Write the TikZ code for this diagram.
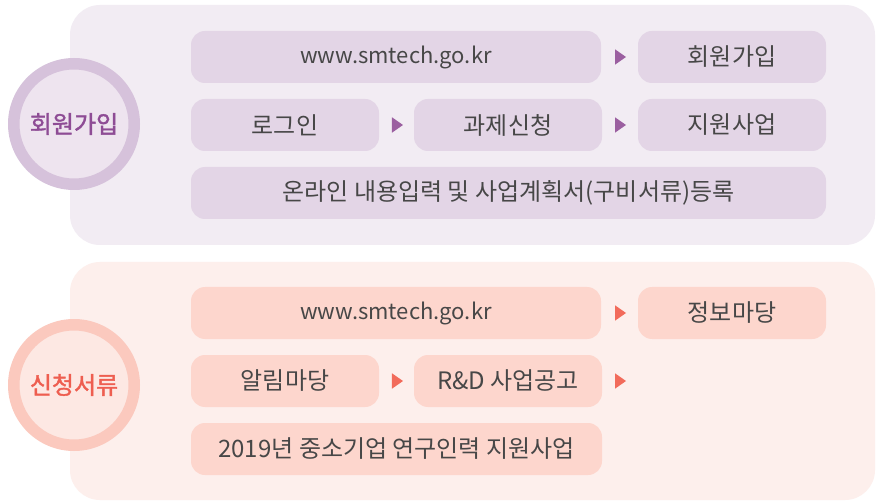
\documentclass[tikz,border=0pt]{standalone}
\usepackage{fontspec}
\usetikzlibrary{shapes.geometric}
\setmainfont{Noto Sans CJK KR}
\newfontfamily\circfont{Noto Sans CJK KR}[FakeBold=1.6]
\definecolor{pbg}{HTML}{F2ECF3}
\definecolor{pbox}{HTML}{E3D5E6}
\definecolor{parr}{HTML}{9B5FA0}
\definecolor{ptxt}{HTML}{8E4C95}
\definecolor{pring}{HTML}{D6C2DB}
\definecolor{pin}{HTML}{EEE4EF}
\definecolor{rbg}{HTML}{FDEFEC}
\definecolor{rbox}{HTML}{FDD6CD}
\definecolor{rarr}{HTML}{F26B5B}
\definecolor{rtxt}{HTML}{EE5E50}
\definecolor{rring}{HTML}{FBC9BE}
\definecolor{rin}{HTML}{FDE8E3}
\definecolor{tgray}{HTML}{474747}
\tikzset{
  panel/.style={rounded corners=30pt},
  itembox/.style={rounded corners=14pt, inner sep=0pt, font=\fontsize{24}{28}\selectfont, text=tgray},
  urltext/.style={itembox, font=\fontsize{22}{26}\selectfont},
  circtext/.style={font=\circfont\fontsize{24}{28}\selectfont},
  tri/.style={isosceles triangle, isosceles triangle apex angle=70, inner sep=0pt, minimum height=11pt, minimum width=13pt, anchor=center},
}
\begin{document}
\begin{tikzpicture}[x=1pt,y=-1pt]
\useasboundingbox[fill=white] (0,0) rectangle (877,502);
% panels
\fill[pbg,panel] (70,5) rectangle (875,245);
\fill[rbg,panel] (70,262) rectangle (875,500);
% circles
\fill[pring] (74,124) circle (66);
\draw[pring,line width=3pt,fill=pin] (74,124) circle (56);
\node[circtext, text=ptxt] (c1) at (74,124) {회원가입};
\fill[rring] (74,385) circle (66);
\draw[rring,line width=3pt,fill=rin] (74,385) circle (56);
\node[circtext, text=rtxt] (c2) at (74,385) {신청서류};
% top boxes
\path[fill=pbox,itembox] (191,31) rectangle (601,83); \node[urltext] (a1) at (396,57) {www.smtech.go.kr};
\path[fill=pbox,itembox] (638,31) rectangle (826,83); \node[itembox] (a2) at (732,57) {회원가입};
\path[fill=pbox,itembox] (191,99) rectangle (379,151); \node[itembox] (b1) at (285,125) {로그인};
\path[fill=pbox,itembox] (414,99) rectangle (602,151); \node[itembox] (b2) at (508,125) {과제신청};
\path[fill=pbox,itembox] (638,99) rectangle (826,151); \node[itembox] (b3) at (732,125) {지원사업};
\path[fill=pbox,itembox] (191,167) rectangle (826,219); \node[itembox] (c3) at (508.5,193) {온라인 내용입력 및 사업계획서(구비서류)등록};
\node[tri,fill=parr] (t1) at (619,57) {};
\node[tri,fill=parr] (t2) at (396,125) {};
\node[tri,fill=parr] (t3) at (619,125) {};
% bottom boxes
\path[fill=rbox,itembox] (191,287) rectangle (601,339); \node[urltext] (d1) at (396,313) {www.smtech.go.kr};
\path[fill=rbox,itembox] (638,287) rectangle (826,339); \node[itembox] (d2) at (732,313) {정보마당};
\path[fill=rbox,itembox] (191,355) rectangle (379,407); \node[itembox] (e1) at (285,381) {알림마당};
\path[fill=rbox,itembox] (414,355) rectangle (602,407); \node[itembox] (e2) at (508,381) {R\&D 사업공고};
\path[fill=rbox,itembox] (191,423) rectangle (602,475); \node[itembox] (f1) at (396.5,449) {2019년 중소기업 연구인력 지원사업};
\node[tri,fill=rarr] (t4) at (619,313) {};
\node[tri,fill=rarr] (t5) at (396,381) {};
\node[tri,fill=rarr] (t6) at (619,381) {};
\end{tikzpicture}
\end{document}
